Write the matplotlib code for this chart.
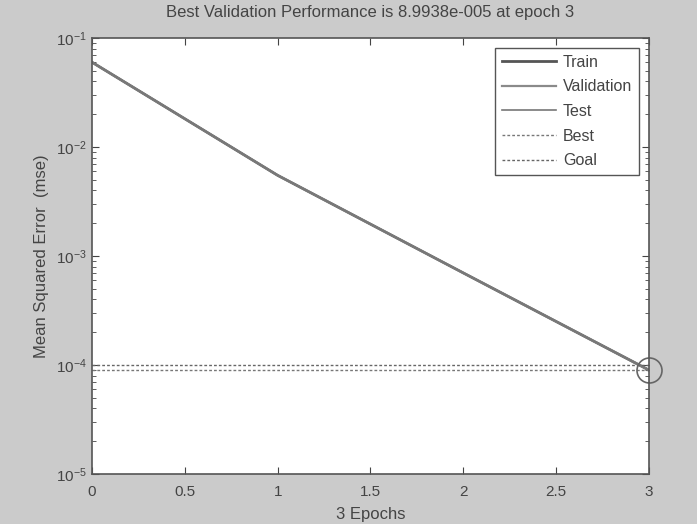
import matplotlib
matplotlib.use("Agg")
import matplotlib.pyplot as plt
import numpy as np

epochs = [0, 1, 2, 3]
train = [6.0e-2, 5.5e-3, 7.0e-4, 8.9938e-5]
validation = [6.0e-2, 5.5e-3, 7.0e-4, 8.9938e-5]
test = [6.0e-2, 5.5e-3, 7.0e-4, 8.9938e-5]
best_epoch = 3
best_perf = 8.9938e-5
goal = 1.0e-4

xticks = [0, 0.5, 1, 1.5, 2, 2.5, 3]

plt.rcParams['font.family'] = ['Liberation Sans', 'DejaVu Sans']

fig = plt.figure(figsize=(6.97, 5.24), dpi=100, facecolor='#cbcbcb')
ax = fig.add_axes([0.132, 0.0954, 0.799, 0.832])
ax.set_facecolor('white')

ax.semilogy(epochs, train, color='#555555', lw=2.0, label='Train')
ax.semilogy(epochs, validation, color='#8a8a8a', lw=1.6, label='Validation')
ax.semilogy(epochs, test, color='#777777', lw=1.2, label='Test')
ax.axhline(best_perf, color='#777777', lw=1.0, ls=(0, (2, 1.5)), label='Best')
ax.axhline(goal, color='#666666', lw=1.0, ls=(0, (2, 1.5)), label='Goal')
ax.plot([best_epoch], [best_perf], 'o', ms=18, mfc='none', mec='#666666', mew=1.2,
        clip_on=False)

ax.set_xlim(0, 3)
ax.set_ylim(1e-5, 1e-1)
ax.set_xticks(xticks)
ax.set_xticklabels(['0', '0.5', '1', '1.5', '2', '2.5', '3'])
ax.tick_params(which='both', direction='in', top=True, right=True,
               labelsize=11, colors='#444444')
ax.tick_params(axis='x', pad=8)
ax.tick_params(which='major', length=5)
ax.tick_params(which='minor', length=3)
for s in ax.spines.values():
    s.set_color('#555555')
    s.set_linewidth(1.2)

ax.set_title('Best Validation Performance is 8.9938e-005 at epoch 3',
             fontsize=12, color='#444444', pad=15)
ax.set_xlabel('3 Epochs', fontsize=12, color='#444444', labelpad=6)
ax.set_ylabel('Mean Squared Error  (mse)', fontsize=12, color='#444444',
              labelpad=5)

leg = ax.legend(loc='upper right', fontsize=11.5, fancybox=False, framealpha=1,
                edgecolor='#555555', borderaxespad=0.6, handlelength=3.4,
                handletextpad=0.4, labelspacing=0.6, borderpad=0.45)
for t in leg.get_texts():
    t.set_color('#444444')

plt.savefig('out.png', dpi=100, facecolor=fig.get_facecolor())
